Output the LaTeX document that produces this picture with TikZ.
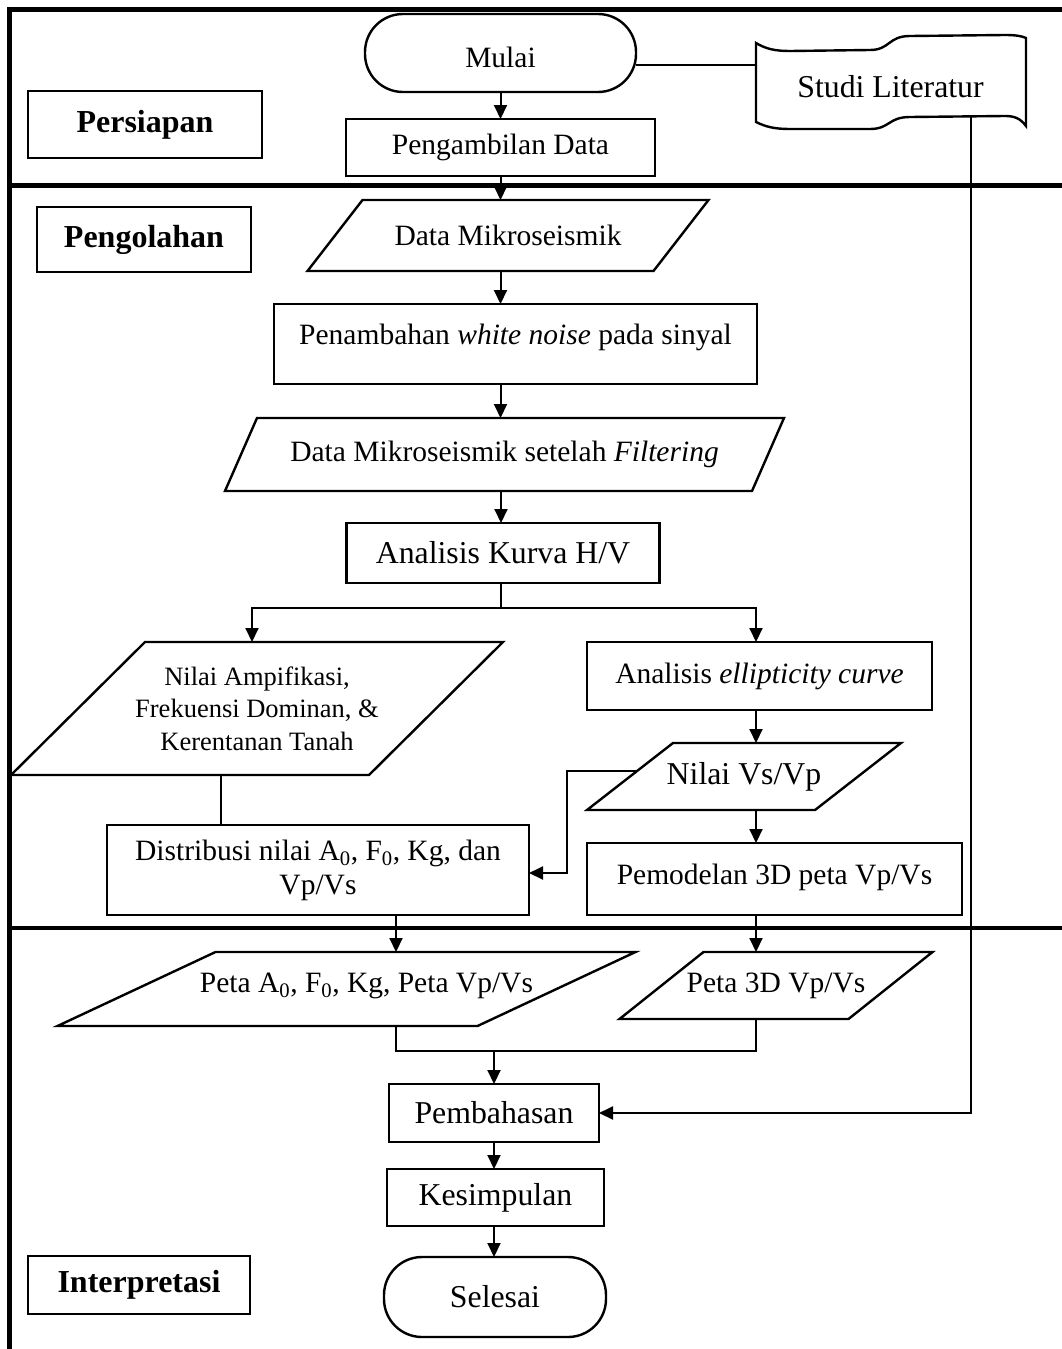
\documentclass[tikz,border=0pt]{standalone}
\usepackage{fontspec}
\setmainfont{Liberation Serif}
\usetikzlibrary{arrows.meta,calc}
\newcommand\drawpara[2]{\draw[pline] ([xshift=#2]#1.north west) -- ([xshift=#2]#1.north east) -- ([xshift=-#2]#1.south east) -- ([xshift=-#2]#1.south west) -- cycle;}
\begin{document}
\begin{tikzpicture}[x=1pt,y=-1pt,
  nfont/.style={font=\fontsize{29.5}{34}\selectfont},
  bfont/.style={font=\fontsize{31.8}{36}\selectfont},
  box/.style={draw, line width=2.4pt, rectangle, inner sep=0pt, outer sep=0pt, align=center, nfont},
  lbl/.style={box, font=\bfseries\fontsize{32}{36}\selectfont},
  term/.style={box, rounded corners=38pt},
  para/.style={rectangle, inner sep=0pt, outer sep=0pt, align=center, nfont},
  pline/.style={line width=2.4pt, line join=miter},
  frame/.style={line width=4.5pt},
  conn/.style={line width=2pt},
  arr/.style={conn, -{Triangle[length=14pt,width=13pt]}}
]
\useasboundingbox (0,0) rectangle (1061,1349);

% section frame
\draw[frame] (9.5,1352) -- (9.5,9.5) -- (1065,9.5);
\draw[frame] (9.5,185.5) -- (1065,185.5);
\draw[frame] (9.5,928) -- (1065,928);

% Persiapan
\node[term, minimum width=271, minimum height=78] (mulai) at (500.5,53) {\rule{0pt}{30pt}Mulai};
\node[box, minimum width=309, minimum height=57] (ambil) at (500.5,147.5) {Pengambilan Data};
\node[lbl, minimum width=234, minimum height=67] (persiapan) at (145,124.5) {Persiapan};
\node[bfont, inner sep=0pt] (studi) at (890.5,87) {Studi Literatur};
\draw[pline] (756,43) .. controls (766,49) and (775,51) .. (790,51) -- (870,50)
  .. controls (890,50) and (888,36) .. (910,36) -- (1005,35)
  .. controls (1015,35) and (1022,36) .. (1026,38) -- (1026,126)
  .. controls (1020,118) and (1014,116) .. (1005,116) -- (910,117)
  .. controls (888,117) and (890,129) .. (870,129) -- (790,129)
  .. controls (775,129) and (766,127) .. (756,122) -- cycle;
\coordinate (stl) at (756,65);
\coordinate (stb) at (971,117);

% Pengolahan
\node[lbl, minimum width=214, minimum height=65] (olah) at (144,239.5) {Pengolahan};
\node[para, minimum width=346, minimum height=71] (dm) at (508,235.5) {Data Mikroseismik};
\drawpara{dm}{27.5pt}
\node[box, minimum width=483, minimum height=80] (pen) at (515.5,344) {\raisebox{20pt}{Penambahan \textit{white noise} pada sinyal}};
\node[para, minimum width=527, minimum height=73] (filt) at (504.5,454.5) {Data Mikroseismik setelah \textit{Filtering}};
\drawpara{filt}{16pt}
\node[box, bfont, minimum width=313, minimum height=60] (hv) at (503,553) {Analisis Kurva H/V};
\node[para, font=\fontsize{26.5}{32.5}\selectfont, minimum width=358, minimum height=133] (amp) at (257,708.5) {Nilai Ampifikasi,\\Frekuensi Dominan, \&\\Kerentanan Tanah};
\drawpara{amp}{67pt}
\node[box, minimum width=345, minimum height=68] (ell) at (759.5,676) {Analisis \textit{ellipticity curve}};
\node[para, bfont, minimum width=228, minimum height=67] (vs) at (744,776.5) {Nilai Vs/Vp};
\drawpara{vs}{43pt}
\node[box, minimum width=422, minimum height=90] (dist) at (318,870) {Distribusi nilai A\textsubscript{0}, F\textsubscript{0}, Kg, dan\\Vp/Vs};
\node[box, minimum width=375, minimum height=72] (pem) at (774.5,879) {\raisebox{10pt}{Pemodelan 3D peta Vp/Vs}};

% Interpretasi
\node[para, minimum width=420, minimum height=74] (peta) at (346.5,989) {\hspace*{40pt}\raisebox{12pt}{Peta A\textsubscript{0}, F\textsubscript{0}, Kg, Peta Vp/Vs}};
\drawpara{peta}{79pt}
\node[para, minimum width=229, minimum height=67] (p3d) at (776,985.5) {Peta 3D Vp/Vs};
\drawpara{p3d}{42pt}
\node[box, bfont, minimum width=210, minimum height=58] (bahas) at (494,1113) {Pembahasan};
\node[box, bfont, minimum width=217, minimum height=57] (simpul) at (495.5,1197.5) {Kesimpulan};
\node[term, bfont, minimum width=222, minimum height=80] (selesai) at (495,1297) {Selesai};
\node[lbl, minimum width=222, minimum height=58] (interp) at (139,1285) {Interpretasi};

% helper coordinates
\coordinate (sM) at (501,608);
\coordinate (sL) at (252,608);
\coordinate (sR) at (756,608);
\coordinate (aL) at (221,0);
\coordinate (vsl) at (637,771);
\coordinate (vb) at (567,873);
\coordinate (pL) at (396,0);
\coordinate (jL) at (396,1051);
\coordinate (jR) at (756,1051);

% connectors
\draw[conn] ([yshift=-12pt]mulai.east) -- (stl);
\draw[arr] (stb) |- (bahas.east);
\draw[arr] (mulai.south) -- (ambil.north);
\draw[arr] (ambil.south) -- (ambil.south |- dm.north);
\draw[arr] (dm.south -| ambil.south) -- (pen.north -| ambil.south);
\draw[arr] (pen.south -| ambil.south) -- (filt.north -| ambil.south);
\draw[arr] (filt.south -| sM) -- (hv.north -| sM);
\draw[conn] (hv.south -| sM) -- (sM);
\draw[arr] (sM) -| (amp.north -| sL);
\draw[arr] (sM) -| (ell.north -| sR);
\draw[arr] (ell.south -| sR) -- (vs.north -| sR);
\draw[arr] (vs.south -| sR) -- (pem.north -| sR);
\draw[arr] (vsl) -| (vb) -- (dist.east |- vb);
\draw[conn] (amp.south -| aL) -- (dist.north -| aL);
\draw[arr] (dist.south -| pL) -- (peta.north -| pL);
\draw[arr] (pem.south -| sR) -- (p3d.north -| sR);
\draw[conn] (peta.south -| jL) -- (jL) -- (jR) -- (p3d.south -| jR);
\draw[arr] (bahas.north |- jL) -- (bahas.north);
\draw[arr] (bahas.south) -- (bahas.south |- simpul.north);
\draw[arr] (simpul.south -| bahas.south) -- (selesai.north -| bahas.south);
\end{tikzpicture}
\end{document}
